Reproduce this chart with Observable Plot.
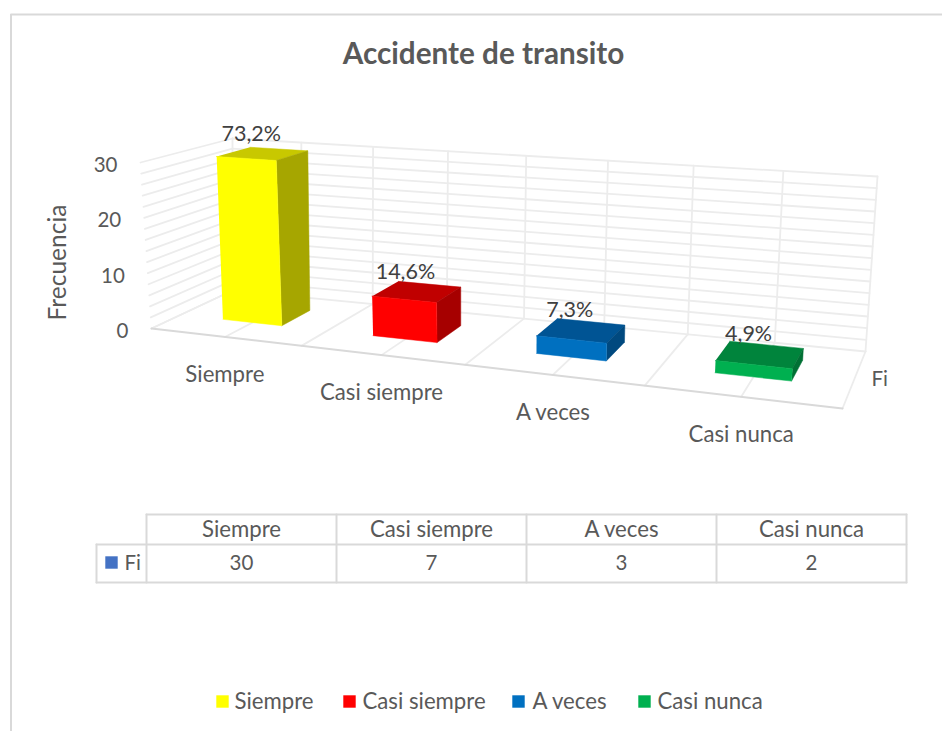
<!DOCTYPE html>
<html lang="es">
<head>
<meta charset="utf-8">
<style>html,body{margin:0;padding:0;background:#fff}svg{display:block}</style>
<script src="https://cdn.jsdelivr.net/npm/d3@7"></script>
<script src="https://cdn.jsdelivr.net/npm/@observablehq/plot@0.6"></script>
</head>
<body>
<script>
// ---- data ----
const categories = ["Siempre", "Casi siempre", "A veces", "Casi nunca"];
const frequencies = [30, 7, 3, 2];
const percentLabels = ["73,2%", "14,6%", "7,3%", "4,9%"];
const frontColors = ["#FFFF00", "#FF0000", "#0070C0", "#00B050"];
const topColors = ["#C8C800", "#C00000", "#005494", "#00843C"];
const sideColors = ["#A6A600", "#A60000", "#00497F", "#007034"];
const valueTicks = [0, 10, 20, 30];
const seriesName = "Fi";

// ---- layout / camera (the 3D box as seen in the picture) ----
const W = 942, H = 731, valueMax = 30, gridStep = 2, floorDivisions = 8;
const FONT = "Lato, Carlito, Calibri, sans-serif", INK = "#595959";
const homography = ([[x0,y0],[x1,y1],[x2,y2],[x3,y3]]) => {
  const dx1=x1-x2, dx2=x3-x2, sx=x0-x1+x2-x3, dy1=y1-y2, dy2=y3-y2, sy=y0-y1+y2-y3;
  const den=dx1*dy2-dx2*dy1, g=(sx*dy2-dx2*sy)/den, h=(dx1*sy-sx*dy1)/den;
  const a=x1-x0+g*x1, b=x3-x0+h*x3, d=y1-y0+g*y1, e=y3-y0+h*y3;
  return (u,v)=>{const w=g*u+h*v+1; return [(a*u+b*v+x0)/w,(d*u+e*v+y0)/w];};
};
const floorPlane = homography([[151,328],[842,408],[865,351],[232,290]]);
const ceilPlane  = homography([[140,162],[858,213],[877,176],[232,138]]);
const warp = (u, k) => k * u / (1 + (k - 1) * u);
const project = (u, depth, value) => {
  const p = floorPlane(warp(u, 1.075), depth), q = ceilPlane(warp(u, 1.05), depth), t = value / valueMax;
  return [p[0]+(q[0]-p[0])*t, p[1]+(q[1]-p[1])*t];
};
const pt = (u, depth, value, extra) => { const [x,y] = project(u, depth, value); return {x, y, ...extra}; };

// grid
const grid = [];
const addLine = (id, a, b) => { grid.push({...a, id}, {...b, id}); };
for (let v = 0; v <= valueMax; v += gridStep) {
  addLine("b"+v, pt(0,1,v), pt(1,1,v));
  addLine("l"+v, pt(0,0,v), pt(0,1,v));
}
for (let i = 0; i <= floorDivisions; i++) {
  const u = i / floorDivisions;
  addLine("v"+i, pt(u,1,0), pt(u,1,valueMax));
  addLine("f"+i, pt(u,0,0), pt(u,1,0));
}
const frontAxis = [pt(0,0,0), pt(1,0,0)];

// bars
const barLeft = 0.051, barRight = 0.0495, depthFront = 0.34, depthBack = 0.72;
const faces = frequencies.flatMap((val, i) => {
  const c = (i + 0.5) / categories.length, u0 = c - barLeft, u1 = c + barRight;
  const d0 = depthFront, d1 = depthBack, k = categories[i];
  const face = (name, color, corners) => corners.map(([u,d,v]) => pt(u,d,v,{face:k+name, color}));
  return [
    ...face("-top", topColors[i], [[u0,d0,val],[u1,d0,val],[u1,d1,val],[u0,d1,val]]),
    ...face("-side", sideColors[i], [[u1,d0,0],[u1,d1,0],[u1,d1,val],[u1,d0,val]]),
    ...face("-front", frontColors[i], [[u0,d0,0],[u1,d0,0],[u1,d0,val],[u0,d0,val]])
  ];
});
const barLabels = frequencies.map((val, i) => pt((i+0.5)/categories.length, (depthFront+depthBack)/2, val, {label: percentLabels[i]}));
const catLabels = categories.map((name, i) => pt((i+0.5)/categories.length, 0, 0, {label: name}));
const tickLabels = valueTicks.map(v => pt(0,0,v,{label:String(v)}));
const fiLabel = [pt(1,0.5,0,{label:seriesName})];

// data table
const tableX = i => 146 + 190 * i, tableRows = [514, 544, 582], tableLeft = 96;
const tableLines = [
  {id:"top", x:tableX(0), y:tableRows[0]}, {id:"top", x:tableX(4), y:tableRows[0]},
  {id:"mid", x:tableLeft, y:tableRows[1]}, {id:"mid", x:tableX(4), y:tableRows[1]},
  {id:"bot", x:tableLeft, y:tableRows[2]}, {id:"bot", x:tableX(4), y:tableRows[2]},
  {id:"lft", x:tableLeft, y:tableRows[1]}, {id:"lft", x:tableLeft, y:tableRows[2]},
  ...d3.range(5).flatMap(i => [{id:"c"+i, x:tableX(i), y:tableRows[0]}, {id:"c"+i, x:tableX(i), y:tableRows[2]}])
];
const tableHead = categories.map((label,i)=>({label, x:tableX(i)+95, y:529}));
const tableVals = frequencies.map((v,i)=>({label:String(v), x:tableX(i)+95, y:563}));

// legend
const legend = categories.map((label,i)=>({label, color:frontColors[i], sx:[222,349,518,644][i], tx:[234,362,532,657][i], y:701}));

// frame of the chart area
const frame = [{x:W,y:14},{x:10.5,y:14},{x:10.5,y:H}];

const text = (d, o) => Plot.text(d, {x:"x", y:"y", text:"label", fontFamily:FONT, fill:INK, fontSize:22.2, ...o});

const chart = Plot.plot({
  width: W, height: H, margin: 0,
  x: {type:"identity", axis:null}, y: {type:"identity", axis:null},
  color: {type:"identity"},
  marks: [
    Plot.line(frame, {x:"x", y:"y", stroke:"#d9d9d9", strokeWidth:2}),
    Plot.line(grid, {x:"x", y:"y", z:"id", stroke:"#ececec", strokeWidth:1.8}),
    Plot.line(frontAxis, {x:"x", y:"y", stroke:"#d9d9d9", strokeWidth:2}),
    Plot.line(faces, {x:"x", y:"y", z:"face", fill:"color", stroke:"color", strokeWidth:0.5}),
    text(barLabels, {dx:-12, dy:-20, fill:"#404040", fontSize:21.5}),
    text(catLabels, {dy:38}),
    text(tickLabels, {dx:-23, dy:3, textAnchor:"end", fontSize:20.5}),
    text(fiLabel, {dx:25, dy:1, fontSize:20.5}),
    text([{label:"Frecuencia", x:58, y:262}], {rotate:-90, fontSize:24.5}),
    text([{label:"Accidente de transito", x:483, y:54}], {fontSize:29.7, fontWeight:700}),
    Plot.line(tableLines, {x:"x", y:"y", z:"id", stroke:"#d9d9d9", strokeWidth:2}),
    text(tableHead),
    text(tableVals, {fontSize:20.5}),
    Plot.dot([{x:111, y:562}], {x:"x", y:"y", symbol:"square", r:7, fill:"#4472C4", stroke:null}),
    text([{label:seriesName, x:124, y:563}], {textAnchor:"start", fontSize:20.5}),
    Plot.dot(legend, {x:"sx", y:"y", symbol:"square", r:7, fill:"color", stroke:null}),
    text(legend, {x:"tx", textAnchor:"start"})
  ]
});
document.body.append(chart);
</script>
</body>
</html>
